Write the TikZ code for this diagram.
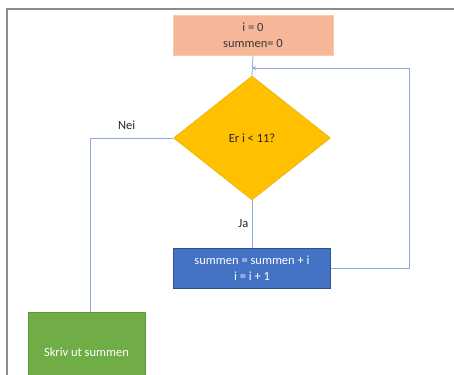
\documentclass[tikz,border=0pt]{standalone}
\usepackage{fontspec}
\setmainfont{Carlito}
\usepackage{xcolor}
\usetikzlibrary{shapes.geometric}
\usetikzlibrary{arrows.meta}

\definecolor{startfarge}{HTML}{F5B797}
\definecolor{startkant}{HTML}{F8CBAD}
\definecolor{valgfarge}{HTML}{FFC000}
\definecolor{valgkant}{HTML}{E3A900}
\definecolor{blokkfarge}{HTML}{4472C4}
\definecolor{blokkkant}{HTML}{2F528F}
\definecolor{slutfarge}{HTML}{70AD47}
\definecolor{slutkant}{HTML}{5F9A3A}
\definecolor{linjefarge}{HTML}{8FAADC}
\definecolor{rammefarge}{HTML}{8C8C8C}

\begin{document}
\begin{tikzpicture}[x=1pt, y=-1pt,
        font=\fontsize{12.5}{16}\selectfont,
        boks/.style={rectangle, align=center, inner sep=0pt, minimum height=40pt},
        linje/.style={draw=linjefarge, line width=0.8pt}]
            \clip (0,0) rectangle (454,374);
            \useasboundingbox (0,0) rectangle (454,374);
            % ramme
            \draw [rammefarge, line width=2pt] (7,375) -- (7,9.5) -- (455,9.5);
            % bokser
            \node [boks, fill=startfarge, draw=startkant, minimum width=160pt, text=black!78] (start) at (253,35) {i = 0\\summen= 0};
            \node [diamond, fill=valgfarge, draw=valgkant, minimum width=157pt, minimum height=124pt, inner sep=0pt, text=black!85] (test) at (252,138) {Er i < 11?};
            \node [boks, fill=blokkfarge, draw=blokkkant, minimum width=157pt, text=white] (oppdater) at (252,268) {summen = summen + i\\i = i + 1};
            \node [boks, fill=slutfarge, draw=slutkant, minimum width=117pt, minimum height=80pt, text=white] (skriv) at (86.5,352) {\raisebox{0pt}{Skriv ut summen}};
            % piler
            \coordinate (hjorne) at (409,68);
            \coordinate (inn) at (252,68);
            \draw [linje] (start.south) -- (test.north);
            \draw [linje] (test.west) -| ([xshift=3.5pt]skriv.north) node[pos=0.28, above=5pt, text=black!85] {Nei};
            \draw [linje] (test.south) -- (oppdater.north) node[midway, left=0pt, text=black!85] {Ja};
            \draw [linje, -{Stealth[length=4pt, width=4pt]}] (oppdater.east) -| (hjorne) -- (inn);
        \end{tikzpicture}
\end{document}
